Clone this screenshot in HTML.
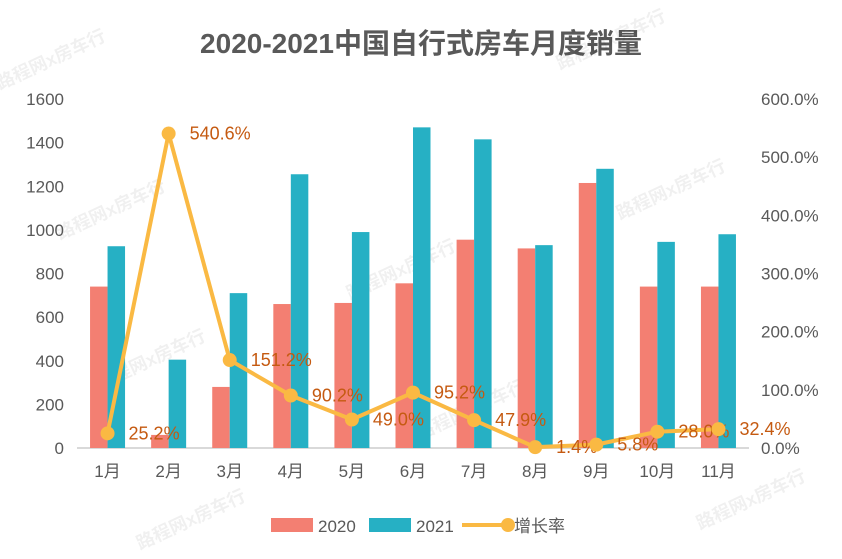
<!DOCTYPE html>
<html><head><meta charset="utf-8"><style>
body{margin:0;background:#fff;}
svg{display:block;font-family:"Liberation Sans","Noto Sans CJK SC",sans-serif;}
</style></head><body>
<svg id="c" width="842" height="559">
<text x="421" y="53" text-anchor="middle" font-size="28" font-weight="bold" fill="#595959">2020-2021中国自行式房车月度销量</text>
<g id="wm" fill="#000" fill-opacity="0.06" font-size="18" font-weight="bold">
<text transform="translate(0,90) rotate(-25)">路程网x房车行</text>
<text transform="translate(560,70) rotate(-25)">路程网x房车行</text>
<text transform="translate(60,240) rotate(-25)">路程网x房车行</text>
<text transform="translate(350,300) rotate(-25)">路程网x房车行</text>
<text transform="translate(620,220) rotate(-25)">路程网x房车行</text>
<text transform="translate(100,390) rotate(-25)">路程网x房车行</text>
<text transform="translate(420,440) rotate(-25)">路程网x房车行</text>
<text transform="translate(140,550) rotate(-25)">路程网x房车行</text>
<text transform="translate(700,530) rotate(-25)">路程网x房车行</text>
</g>
<g id="axes"></g>
<g id="bars"></g>
<g id="line"></g>
<g>
<rect x="271" y="518" width="42" height="14" fill="#F37F72"/>
<text x="318" y="532" font-size="17" fill="#595959">2020</text>
<rect x="369" y="518" width="42" height="14" fill="#26B0C4"/>
<text x="416" y="532" font-size="17" fill="#595959">2021</text>
<line x1="462" y1="525" x2="508" y2="525" stroke="#FAB943" stroke-width="4"/>
<circle cx="508" cy="525" r="7" fill="#FAB943"/>
<text x="514" y="532" font-size="17" fill="#595959">增长率</text>
</g>
</svg>
<script>
const categories=["1月","2月","3月","4月","5月","6月","7月","8月","9月","10月","11月"];
const sales2020=[740,60,280,660,665,755,955,915,1215,740,740];
const sales2021=[925,405,710,1255,990,1470,1415,930,1280,945,980];
const growth=[25.2,540.6,151.2,90.2,49.0,95.2,47.9,1.4,5.8,28.0,32.4];
const leftTicks=[0,200,400,600,800,1000,1200,1400,1600];
const rightTicks=[0,100,200,300,400,500,600];
const NS="http://www.w3.org/2000/svg";
const x0=77,x1=749,y0=448,y1=99;
const band=(x1-x0)/categories.length;
const xC=i=>x0+band*(i+0.5);
const yL=v=>y0-(v/1600)*(y0-y1);
const yR=v=>y0-(v/600)*(y0-y1);
function mk(tag,attrs,parent,txt){const e=document.createElementNS(NS,tag);for(const k in attrs)e.setAttribute(k,attrs[k]);if(txt!==undefined)e.textContent=txt;document.getElementById(parent).appendChild(e);return e;}
leftTicks.forEach(t=>{const e=mk('text',{x:64,y:yL(t)+6,'text-anchor':'end','font-size':17,fill:'#595959'},'axes',t);

});
rightTicks.forEach(t=>{const e=mk('text',{x:761,y:yR(t)+6,'font-size':17,fill:'#595959'},'axes',t.toFixed(1)+'%');

});
categories.forEach((c,i)=>{const e=mk('text',{x:xC(i),y:477,'text-anchor':'middle','font-size':17,fill:'#595959'},'axes',c);

});
const bw=17.5;
categories.forEach((c,i)=>{
const a=mk('rect',{x:xC(i)-bw,y:yL(sales2020[i]),width:bw,height:y0-yL(sales2020[i]),fill:'#F37F72'},'bars');


const b=mk('rect',{x:xC(i),y:yL(sales2021[i]),width:bw,height:y0-yL(sales2021[i]),fill:'#26B0C4'},'bars');


});
const ax=mk('line',{x1:x0,y1:y0,x2:x1,y2:y0,stroke:'#D9D9D9','stroke-width':2},'axes');


const pl=mk('polyline',{points:growth.map((g,i)=>xC(i)+','+yR(g)).join(' '),fill:'none',stroke:'#FAB943','stroke-width':4,'stroke-linejoin':'round'},'line');


growth.forEach((g,i)=>{
const p=mk('circle',{cx:xC(i),cy:yR(g),r:7,fill:'#FAB943'},'line');


const l=mk('text',{x:xC(i)+21,y:yR(g)+6,'font-size':18,fill:'#C55A11'},'line',g.toFixed(1)+'%');


});
</script>
</body></html>
